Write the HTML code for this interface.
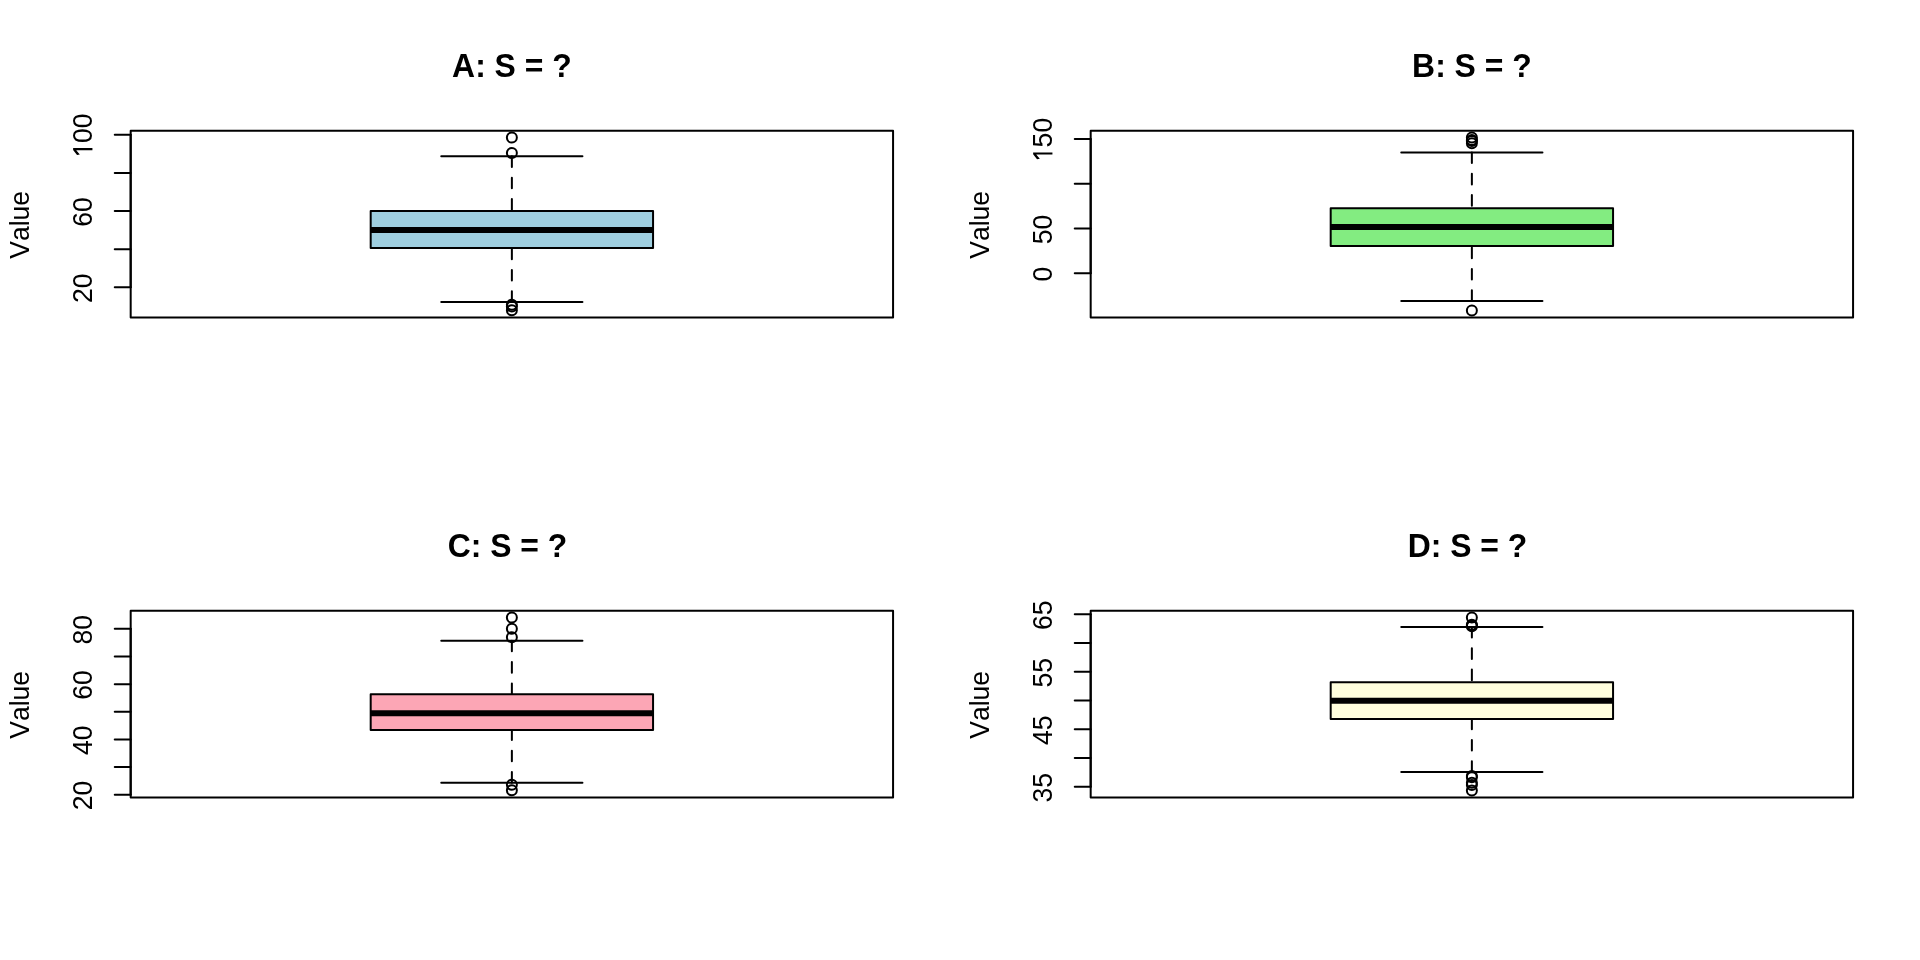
<!DOCTYPE html>
<html><head><meta charset="utf-8"><title>Boxplots</title>
<style>
html,body{margin:0;padding:0;background:#fff;}
body{width:1920px;height:960px;overflow:hidden;font-family:"Liberation Sans",sans-serif;}
svg{display:block;will-change:transform;transform:translateZ(0);}
.l{stroke:#000;stroke-width:2;stroke-linecap:round;stroke-linejoin:round;}
.d{stroke:#000;stroke-width:2;stroke-linecap:round;stroke-dasharray:10.67 10.67;fill:none;}
.t{font-kerning:none;font-family:"Liberation Sans",sans-serif;font-size:26.56px;fill:#000;text-anchor:middle;}
.m{font-kerning:none;font-family:"Liberation Sans",sans-serif;font-size:31.87px;font-weight:bold;fill:#000;text-anchor:middle;}
</style></head><body>
<svg width="1920" height="960" viewBox="0 0 1920 960">
<rect x="0" y="0" width="1920" height="960" fill="#fff"/>
<rect x="370.69" y="211.00" width="282.37" height="36.90" fill="#9fcfe0" stroke="none"/>
<line x1="370.69" y1="229.90" x2="653.06" y2="229.90" stroke="#000" stroke-width="6" stroke-linecap="butt"/>
<line x1="511.87" y1="156.30" x2="511.87" y2="211.00" class="d"/>
<line x1="511.87" y1="301.90" x2="511.87" y2="247.90" class="d"/>
<line x1="441.28" y1="156.30" x2="582.46" y2="156.30" class="l"/>
<line x1="441.28" y1="301.90" x2="582.46" y2="301.90" class="l"/>
<rect x="370.69" y="211.00" width="282.37" height="36.90" fill="none" class="l"/>
<circle cx="511.87" cy="137.60" r="5" fill="none" class="l"/>
<circle cx="511.87" cy="153.10" r="5" fill="none" class="l"/>
<circle cx="511.87" cy="304.75" r="5" fill="none" class="l"/>
<circle cx="511.87" cy="306.40" r="5" fill="none" class="l"/>
<circle cx="511.87" cy="310.30" r="5" fill="none" class="l"/>
<line x1="130.68" y1="134.80" x2="130.68" y2="287.30" class="l"/>
<line x1="130.68" y1="134.80" x2="114.74" y2="134.80" class="l"/>
<line x1="130.68" y1="172.93" x2="114.74" y2="172.93" class="l"/>
<line x1="130.68" y1="211.05" x2="114.74" y2="211.05" class="l"/>
<line x1="130.68" y1="249.18" x2="114.74" y2="249.18" class="l"/>
<line x1="130.68" y1="287.30" x2="114.74" y2="287.30" class="l"/>
<g transform="translate(92.43,135.70) rotate(-90)"><path d="M-14.60,0.00 L-12.40,0.00 L-12.40,-19.30 L-14.25,-19.30 L-19.30,-15.40 L-18.70,-12.60 L-14.60,-16.20 Z" fill="#000"/><text transform="translate(-7.38,0) scale(1,1.05)" class="t" style="text-anchor:start">00</text></g>
<text transform="translate(92.43,211.95) rotate(-90) scale(1,1.05)" class="t">60</text>
<text transform="translate(92.43,288.20) rotate(-90) scale(1,1.05)" class="t">20</text>
<rect x="130.68" y="130.68" width="762.39" height="186.78" fill="none" class="l"/>
<text transform="translate(28.68,224.86) rotate(-90) scale(1,1.05)" class="t">Value</text>
<text transform="translate(511.87,76.80) scale(1,1.04)" class="m">A: S = ?</text>
<rect x="1330.69" y="208.35" width="282.37" height="37.75" fill="#83ec81" stroke="none"/>
<line x1="1330.69" y1="227.10" x2="1613.06" y2="227.10" stroke="#000" stroke-width="6" stroke-linecap="butt"/>
<line x1="1471.87" y1="152.40" x2="1471.87" y2="208.35" class="d"/>
<line x1="1471.87" y1="300.90" x2="1471.87" y2="246.10" class="d"/>
<line x1="1401.28" y1="152.40" x2="1542.46" y2="152.40" class="l"/>
<line x1="1401.28" y1="300.90" x2="1542.46" y2="300.90" class="l"/>
<rect x="1330.69" y="208.35" width="282.37" height="37.75" fill="none" class="l"/>
<circle cx="1471.87" cy="137.60" r="5" fill="none" class="l"/>
<circle cx="1471.87" cy="140.10" r="5" fill="none" class="l"/>
<circle cx="1471.87" cy="140.90" r="5" fill="none" class="l"/>
<circle cx="1471.87" cy="143.30" r="5" fill="none" class="l"/>
<circle cx="1471.87" cy="310.45" r="5" fill="none" class="l"/>
<line x1="1090.68" y1="139.10" x2="1090.68" y2="273.30" class="l"/>
<line x1="1090.68" y1="139.10" x2="1074.74" y2="139.10" class="l"/>
<line x1="1090.68" y1="183.85" x2="1074.74" y2="183.85" class="l"/>
<line x1="1090.68" y1="228.60" x2="1074.74" y2="228.60" class="l"/>
<line x1="1090.68" y1="273.30" x2="1074.74" y2="273.30" class="l"/>
<g transform="translate(1052.43,140.00) rotate(-90)"><path d="M-14.60,0.00 L-12.40,0.00 L-12.40,-19.30 L-14.25,-19.30 L-19.30,-15.40 L-18.70,-12.60 L-14.60,-16.20 Z" fill="#000"/><text transform="translate(-7.38,0) scale(1,1.05)" class="t" style="text-anchor:start">50</text></g>
<text transform="translate(1052.43,229.50) rotate(-90) scale(1,1.05)" class="t">50</text>
<text transform="translate(1052.43,274.20) rotate(-90) scale(1,1.05)" class="t">0</text>
<rect x="1090.68" y="130.68" width="762.39" height="186.78" fill="none" class="l"/>
<text transform="translate(988.68,224.86) rotate(-90) scale(1,1.05)" class="t">Value</text>
<text transform="translate(1471.87,76.80) scale(1,1.04)" class="m">B: S = ?</text>
<rect x="370.69" y="694.15" width="282.37" height="35.85" fill="#fca6b5" stroke="none"/>
<line x1="370.69" y1="713.25" x2="653.06" y2="713.25" stroke="#000" stroke-width="6" stroke-linecap="butt"/>
<line x1="511.87" y1="640.70" x2="511.87" y2="694.15" class="d"/>
<line x1="511.87" y1="782.70" x2="511.87" y2="730.00" class="d"/>
<line x1="441.28" y1="640.70" x2="582.46" y2="640.70" class="l"/>
<line x1="441.28" y1="782.70" x2="582.46" y2="782.70" class="l"/>
<rect x="370.69" y="694.15" width="282.37" height="35.85" fill="none" class="l"/>
<circle cx="511.87" cy="617.60" r="5" fill="none" class="l"/>
<circle cx="511.87" cy="628.80" r="5" fill="none" class="l"/>
<circle cx="511.87" cy="637.20" r="5" fill="none" class="l"/>
<circle cx="511.87" cy="784.80" r="5" fill="none" class="l"/>
<circle cx="511.87" cy="790.30" r="5" fill="none" class="l"/>
<line x1="130.68" y1="628.85" x2="130.68" y2="794.70" class="l"/>
<line x1="130.68" y1="628.85" x2="114.74" y2="628.85" class="l"/>
<line x1="130.68" y1="656.49" x2="114.74" y2="656.49" class="l"/>
<line x1="130.68" y1="684.13" x2="114.74" y2="684.13" class="l"/>
<line x1="130.68" y1="711.78" x2="114.74" y2="711.78" class="l"/>
<line x1="130.68" y1="739.42" x2="114.74" y2="739.42" class="l"/>
<line x1="130.68" y1="767.06" x2="114.74" y2="767.06" class="l"/>
<line x1="130.68" y1="794.70" x2="114.74" y2="794.70" class="l"/>
<text transform="translate(92.43,629.75) rotate(-90) scale(1,1.05)" class="t">80</text>
<text transform="translate(92.43,685.03) rotate(-90) scale(1,1.05)" class="t">60</text>
<text transform="translate(92.43,740.32) rotate(-90) scale(1,1.05)" class="t">40</text>
<text transform="translate(92.43,795.60) rotate(-90) scale(1,1.05)" class="t">20</text>
<rect x="130.68" y="610.68" width="762.39" height="186.78" fill="none" class="l"/>
<text transform="translate(28.68,704.86) rotate(-90) scale(1,1.05)" class="t">Value</text>
<text transform="translate(507.44,556.80) scale(1,1.04)" class="m">C: S = ?</text>
<rect x="1330.69" y="682.15" width="282.37" height="36.90" fill="#fffedd" stroke="none"/>
<line x1="1330.69" y1="700.85" x2="1613.06" y2="700.85" stroke="#000" stroke-width="6" stroke-linecap="butt"/>
<line x1="1471.87" y1="626.90" x2="1471.87" y2="682.15" class="d"/>
<line x1="1471.87" y1="771.90" x2="1471.87" y2="719.05" class="d"/>
<line x1="1401.28" y1="626.90" x2="1542.46" y2="626.90" class="l"/>
<line x1="1401.28" y1="771.90" x2="1542.46" y2="771.90" class="l"/>
<rect x="1330.69" y="682.15" width="282.37" height="36.90" fill="none" class="l"/>
<circle cx="1471.87" cy="617.60" r="5" fill="none" class="l"/>
<circle cx="1471.87" cy="624.80" r="5" fill="none" class="l"/>
<circle cx="1471.87" cy="625.60" r="5" fill="none" class="l"/>
<circle cx="1471.87" cy="626.20" r="5" fill="none" class="l"/>
<circle cx="1471.87" cy="775.90" r="5" fill="none" class="l"/>
<circle cx="1471.87" cy="777.20" r="5" fill="none" class="l"/>
<circle cx="1471.87" cy="782.80" r="5" fill="none" class="l"/>
<circle cx="1471.87" cy="785.00" r="5" fill="none" class="l"/>
<circle cx="1471.87" cy="790.60" r="5" fill="none" class="l"/>
<line x1="1090.68" y1="614.27" x2="1090.68" y2="786.80" class="l"/>
<line x1="1090.68" y1="614.27" x2="1074.74" y2="614.27" class="l"/>
<line x1="1090.68" y1="643.03" x2="1074.74" y2="643.03" class="l"/>
<line x1="1090.68" y1="671.78" x2="1074.74" y2="671.78" class="l"/>
<line x1="1090.68" y1="700.54" x2="1074.74" y2="700.54" class="l"/>
<line x1="1090.68" y1="729.29" x2="1074.74" y2="729.29" class="l"/>
<line x1="1090.68" y1="758.05" x2="1074.74" y2="758.05" class="l"/>
<line x1="1090.68" y1="786.80" x2="1074.74" y2="786.80" class="l"/>
<text transform="translate(1052.43,615.17) rotate(-90) scale(1,1.05)" class="t">65</text>
<text transform="translate(1052.43,672.68) rotate(-90) scale(1,1.05)" class="t">55</text>
<text transform="translate(1052.43,730.19) rotate(-90) scale(1,1.05)" class="t">45</text>
<text transform="translate(1052.43,787.70) rotate(-90) scale(1,1.05)" class="t">35</text>
<rect x="1090.68" y="610.68" width="762.39" height="186.78" fill="none" class="l"/>
<text transform="translate(988.68,704.86) rotate(-90) scale(1,1.05)" class="t">Value</text>
<text transform="translate(1467.44,556.80) scale(1,1.04)" class="m">D: S = ?</text>
</svg>
</body></html>
